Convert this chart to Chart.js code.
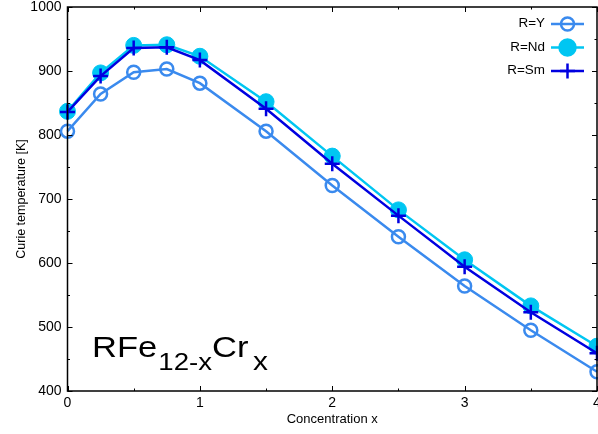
<!DOCTYPE html>
<html>
<head>
    <title>Curie temperature RFe12-xCrx</title>
    <script src="https://cdn.jsdelivr.net/npm/chart.js@4"></script>
    <style>
    body { margin: 0; background: #fff; }
    </style>
</head>
<body>
<canvas id="myCanvas" width="598" height="434"></canvas>
<script>
// values
var concentration = [0, 0.25, 0.5, 0.75, 1, 1.5, 2, 2.5, 3, 3.5, 4];
var tcY  = [806, 864, 898, 903, 881, 806, 721, 641, 564, 495, 430];
var tcNd = [837, 897, 940, 941, 923, 852, 767, 683, 605, 533, 470];
var tcSm = [836, 892, 936, 937, 917, 841, 755, 674, 594, 523, 459];
var seriesNames = ['R=Y', 'R=Nd', 'R=Sm'];
var xTicks = [0, 1, 2, 3, 4];
var yTicks = [400, 500, 600, 700, 800, 900, 1000];

var FONT = '"Liberation Sans", Arial, sans-serif';

function pts(ys) {
  return concentration.map(function(c, i) { return {x: c, y: ys[i]}; });
}

// gnuplot style frame with inward ticks (major + minor), on all four sides
var frame = {
  id: 'frame',
  afterDatasetsDraw: function(chart) {
    var ctx = chart.ctx, a = chart.chartArea;
    var sx = chart.scales.x, sy = chart.scales.y;
    ctx.save();
    ctx.strokeStyle = '#000';
    ctx.lineWidth = 1;
    ctx.beginPath();
    for (var v = 0; v <= 4.001; v += 0.5) {
      var len = (v % 1) ? 2.5 : 5;
      var px = Math.round(sx.getPixelForValue(v)) + 0.5;
      ctx.moveTo(px, a.bottom); ctx.lineTo(px, a.bottom - len);
      ctx.moveTo(px, a.top); ctx.lineTo(px, a.top + len);
    }
    for (var w = 400; w <= 1000; w += 50) {
      var l2 = (w % 100) ? 2.5 : 5;
      var py = Math.round(sy.getPixelForValue(w)) + 0.5;
      ctx.moveTo(a.left, py); ctx.lineTo(a.left + l2, py);
      ctx.moveTo(a.right, py); ctx.lineTo(a.right - l2, py);
    }
    ctx.stroke();
    ctx.lineWidth = 1.5;
    ctx.strokeRect(a.left, a.top, a.right - a.left, a.bottom - a.top);
    ctx.restore();
  }
};

// legend: text on the left, line sample + marker on the right
var keyBox = {
  id: 'keyBox',
  afterDraw: function(chart) {
    var ctx = chart.ctx;
    var rows = [24, 47.5, 71];
    ctx.save();
    chart.data.datasets.forEach(function(ds, i) {
      var y = rows[i];
      ctx.save();
      ctx.translate(545, y);
      ctx.scale(1.12, 1);
      ctx.font = '12px ' + FONT;
      ctx.fillStyle = '#000';
      ctx.textAlign = 'right';
      ctx.textBaseline = 'middle';
      ctx.fillText(ds.label, 0, 0);
      ctx.restore();
      ctx.strokeStyle = ds.borderColor;
      ctx.lineWidth = ds.borderWidth;
      ctx.beginPath();
      ctx.moveTo(551, y); ctx.lineTo(584, y);
      ctx.stroke();
      ctx.strokeStyle = ds.pointBorderColor;
      ctx.fillStyle = ds.pointBackgroundColor;
      Chart.helpers.drawPoint(ctx, {
        pointStyle: ds.pointStyle, radius: ds.pointRadius,
        borderWidth: ds.pointBorderWidth, rotation: 0
      }, 567.5, y);
    });
    ctx.restore();
  }
};

// formula label inside the plot
var formula = {
  id: 'formula',
  afterDraw: function(chart) {
    var ctx = chart.ctx;
    // text, font size, baseline shift, gap before
    var parts = [['RFe', 30, 0, 0], ['12-x', 24, 13, 1], ['Cr', 30, 0, 0], ['x', 26, 13, 4]];
    ctx.save();
    ctx.translate(92, 357);
    ctx.scale(1.15, 1);
    ctx.fillStyle = '#000';
    ctx.textBaseline = 'alphabetic';
    var x = 0;
    parts.forEach(function(p) {
      ctx.font = p[1] + 'px ' + FONT;
      x += p[3];
      ctx.fillText(p[0], x, p[2]);
      x += ctx.measureText(p[0]).width;
    });
    ctx.restore();
  }
};

new Chart(document.getElementById('myCanvas'), {
  type: 'scatter',
  data: {
    datasets: [
      {
        label: seriesNames[0], data: pts(tcY), showLine: true, order: 3, clip: false,
        borderColor: '#3a8aee', borderWidth: 2.5,
        pointStyle: 'circle', pointRadius: 6.5, pointBorderWidth: 2.5,
        pointBorderColor: '#3a8aee', pointBackgroundColor: 'rgba(0,0,0,0)'
      },
      {
        label: seriesNames[1], data: pts(tcNd), showLine: true, order: 2, clip: false,
        borderColor: '#00c6f2', borderWidth: 2.5,
        pointStyle: 'circle', pointRadius: 8, pointBorderWidth: 1,
        pointBorderColor: '#00c6f2', pointBackgroundColor: '#00c6f2'
      },
      {
        label: seriesNames[2], data: pts(tcSm), showLine: true, order: 1, clip: false,
        borderColor: '#0000e0', borderWidth: 2.5,
        pointStyle: 'cross', pointRadius: 7.5, pointBorderWidth: 2.5,
        pointBorderColor: '#0000e0', pointBackgroundColor: '#0000e0'
      }
    ]
  },
  options: {
    responsive: false,
    animation: false,
    events: [],
    layout: { autoPadding: false, padding: { top: 7, right: 1, left: 0, bottom: 0 } },
    plugins: { legend: { display: false }, tooltip: { enabled: false } },
    elements: { line: { tension: 0 } },
    scales: {
      x: {
        type: 'linear', min: 0, max: 4,
        grid: { display: false, drawTicks: false },
        border: { display: false },
        afterBuildTicks: function(s) { s.ticks = xTicks.map(function(v) { return {value: v}; }); },
        afterFit: function(s) { s.height = 43; s.paddingLeft = 0; s.paddingRight = 0; },
        ticks: { padding: 4, color: '#000', font: { family: FONT, size: 14 }, maxRotation: 0,
                 callback: function(v) { return String(v); } },
        title: { display: true, text: 'Concentration x', color: '#000',
                 font: { family: FONT, size: 13 }, padding: { top: 0, bottom: 7 } }
      },
      y: {
        type: 'linear', min: 400, max: 1000,
        grid: { display: false, drawTicks: false },
        border: { display: false },
        afterBuildTicks: function(s) { s.ticks = yTicks.map(function(v) { return {value: v}; }); },
        afterFit: function(s) { s.width = 67.5; s.paddingTop = 0; s.paddingBottom = 0; },
        ticks: { padding: 6, color: '#000', font: { family: FONT, size: 14 },
                 callback: function(v) { return String(v); } },
        title: { display: true, text: 'Curie temperature [K]', color: '#000',
                 font: { family: FONT, size: 12.5 }, padding: { top: 14, bottom: 0 } }
      }
    }
  },
  plugins: [frame, keyBox, formula]
});
</script>
</body>
</html>
